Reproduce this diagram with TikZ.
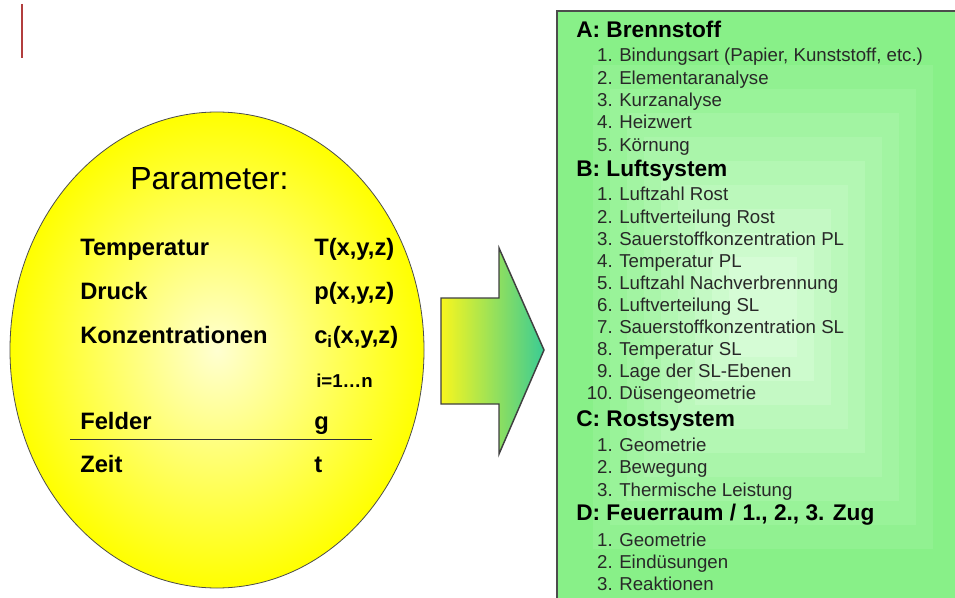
\documentclass[tikz,border=0pt]{standalone}
\usepackage{fontspec}
\setmainfont{Liberation Sans}
\usepackage{xcolor}

\definecolor{boxgreen}{RGB}{136,240,136}
\definecolor{boxlight}{RGB}{214,252,214}
\definecolor{arrowyellow}{RGB}{248,246,30}
\definecolor{arrowgreen}{RGB}{58,204,148}
\definecolor{markred}{RGB}{178,62,62}
\definecolor{itemgray}{RGB}{40,40,40}

\begin{document}
\begin{tikzpicture}[
    x=0.75pt, y=-0.75pt,
    param/.style={anchor=base west, inner sep=0pt, font=\bfseries\fontsize{17.8}{20}\selectfont},
    header/.style={anchor=base west, inner sep=0pt, font=\bfseries\fontsize{17}{19}\selectfont},
    item/.style={anchor=base west, inner sep=0pt, text=itemgray, font=\fontsize{14}{16}\selectfont},
    num/.style={item, anchor=base east}
]
\useasboundingbox (0,0) rectangle (955,598);

% red marker
\draw[markred, line width=1.6pt] (22,4) -- (22,58);

% Parameter ellipse
\shade[inner color=yellow!18!white, outer color=yellow, draw=black!70, line width=0.6pt] (217,350) ellipse (207 and 238);

\node[anchor=base west, inner sep=0pt, font=\fontsize{24}{28}\selectfont] (title) at (130,190) {Parameter:};

\node[param] (temp) at (80,256) {Temperatur};
\node[param] (tempf) at (314,256) {T(x,y,z)};
\node[param] (druck) at (80,300) {Druck};
\node[param] (druckf) at (314,300) {p(x,y,z)};
\node[param] (konz) at (80,343) {Konzentrationen};
\node[param] (konzf) at (314,343) {c\textsubscript{i}(x,y,z)};
\node[param, font=\bfseries\fontsize{14}{16}\selectfont] (index) at (316,387) {i=1…n};
\node[param] (felder) at (80,429) {Felder};
\node[param] (felderf) at (314,429) {g};
\draw[black!80, line width=0.6pt] (70,439) -- (372,439);
\node[param] (zeit) at (80,472) {Zeit};
\node[param] (zeitf) at (314,472) {t};

% block arrow
\shade[left color=arrowyellow, right color=arrowgreen, draw=black!75, line width=1.1pt]
    (441,298) -- (499,298) -- (499,248) -- (544,350) -- (499,454) -- (499,404) -- (441,404) -- cycle;

% green box with stepped shading
\begin{scope}
\clip (0,0) rectangle (955,598);
\fill[boxgreen] (557,11) rectangle (975,615);
\foreach \k [evaluate=\k as \pct using int(\k*11)] in {1,...,9}
    \fill[boxlight!\pct!boxgreen] ({763-170+(\k-1)*17},{307-242+(\k-1)*24}) rectangle ({763+170-(\k-1)*17},{307+242-(\k-1)*24});
\draw[black!70, line width=1pt] (557,11) rectangle (975,615);
\end{scope}

% A
\node[header] (brennstoff) at (576,38) {A: Brennstoff};
\foreach \txt [count=\i] in {{Bindungsart (Papier, Kunststoff, etc.)}, Elementaranalyse, Kurzanalyse, Heizwert, Körnung}{
    \node[num] (na\i) at (613,{62+(\i-1)*22.3}) {\i.};
    \node[item] (a\i) at (619,{62+(\i-1)*22.3}) {\txt};
}

% B
\node[header] (luftsystem) at (576,177) {B: Luftsystem};
\foreach \txt [count=\i] in {Luftzahl Rost, Luftverteilung Rost, Sauerstoffkonzentration PL, Temperatur PL, Luftzahl Nachverbrennung, Luftverteilung SL, Sauerstoffkonzentration SL, Temperatur SL, Lage der SL-Ebenen, Düsengeometrie}{
    \node[num] (nb\i) at (613,{201+(\i-1)*22.1}) {\i.};
    \node[item] (b\i) at (619,{201+(\i-1)*22.1}) {\txt};
}

% C
\node[header] (rostsystem) at (576,426) {C: Rostsystem};
\foreach \txt [count=\i] in {Geometrie, Bewegung, Thermische Leistung}{
    \node[num] (nc\i) at (613,{451+(\i-1)*22.5}) {\i.};
    \node[item] (c\i) at (619,{451+(\i-1)*22.5}) {\txt};
}

% D
\node[header] (feuerraum) at (576,520) {D: Feuerraum / 1., 2., 3. Zug};
\foreach \txt [count=\i] in {Geometrie, Eindüsungen, Reaktionen}{
    \node[num] (nd\i) at (613,{546+(\i-1)*22}) {\i.};
    \node[item] (d\i) at (619,{546+(\i-1)*22}) {\txt};
}

\end{tikzpicture}
\end{document}
